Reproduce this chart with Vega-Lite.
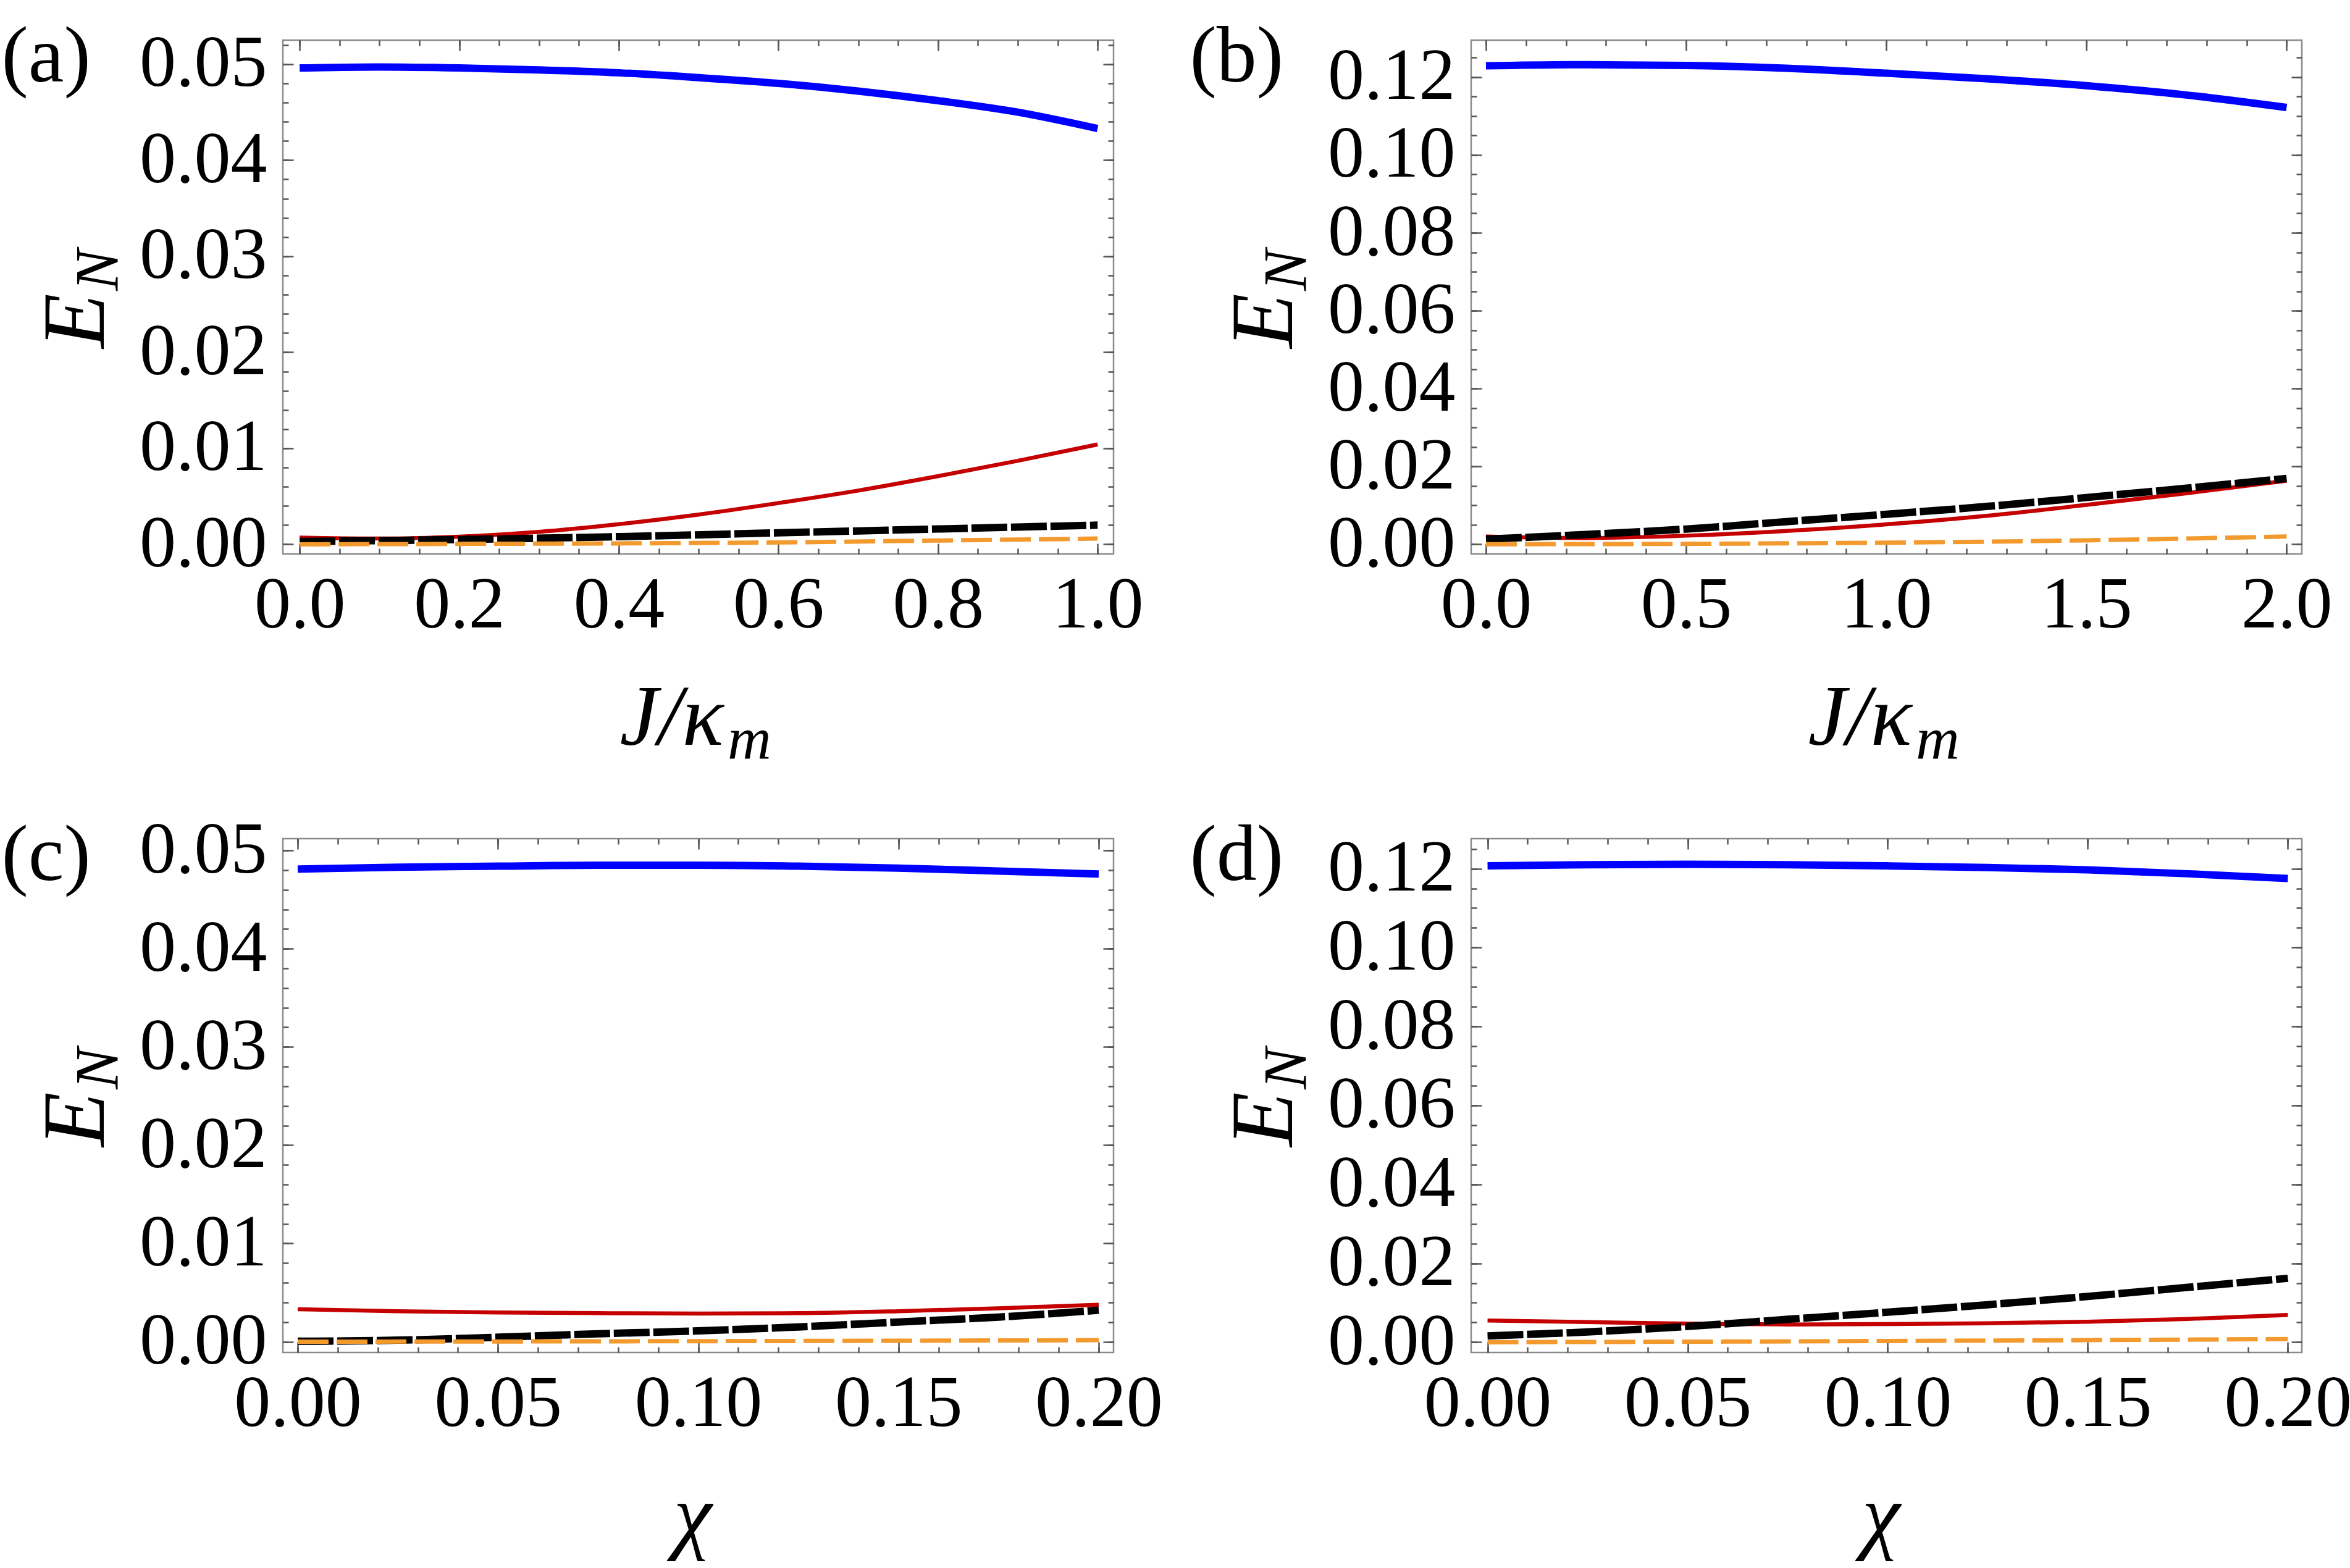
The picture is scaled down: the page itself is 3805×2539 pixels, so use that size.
{
  "$schema": "https://vega.github.io/schema/vega-lite/v6.json",
  "background": "white",
  "padding": {"left": 0, "top": 25, "right": 0, "bottom": 0},
  "columns": 2,
  "bounds": "flush",
  "spacing": {"row": 461, "column": 579},
  "datasets": {
    "en": [
      {"p": "a", "s": "blue", "x": 0, "y": 0.0496},
      {"p": "a", "s": "blue", "x": 0.1, "y": 0.0497},
      {"p": "a", "s": "blue", "x": 0.2, "y": 0.0496},
      {"p": "a", "s": "blue", "x": 0.3, "y": 0.0494},
      {"p": "a", "s": "blue", "x": 0.4, "y": 0.0491},
      {"p": "a", "s": "blue", "x": 0.5, "y": 0.0486},
      {"p": "a", "s": "blue", "x": 0.6, "y": 0.0480},
      {"p": "a", "s": "blue", "x": 0.7, "y": 0.0472},
      {"p": "a", "s": "blue", "x": 0.8, "y": 0.0462},
      {"p": "a", "s": "blue", "x": 0.9, "y": 0.0450},
      {"p": "a", "s": "blue", "x": 1.0, "y": 0.0433},
      {"p": "a", "s": "red", "x": 0, "y": 0.0007},
      {"p": "a", "s": "red", "x": 0.1, "y": 0.0006},
      {"p": "a", "s": "red", "x": 0.2, "y": 0.0008},
      {"p": "a", "s": "red", "x": 0.3, "y": 0.0013},
      {"p": "a", "s": "red", "x": 0.4, "y": 0.0021},
      {"p": "a", "s": "red", "x": 0.5, "y": 0.0031},
      {"p": "a", "s": "red", "x": 0.6, "y": 0.0043},
      {"p": "a", "s": "red", "x": 0.7, "y": 0.0056},
      {"p": "a", "s": "red", "x": 0.8, "y": 0.0071},
      {"p": "a", "s": "red", "x": 0.9, "y": 0.0087},
      {"p": "a", "s": "red", "x": 1.0, "y": 0.0104},
      {"p": "a", "s": "black", "x": 0, "y": 0.0003},
      {"p": "a", "s": "black", "x": 0.2, "y": 0.0005},
      {"p": "a", "s": "black", "x": 0.4, "y": 0.0008},
      {"p": "a", "s": "black", "x": 0.6, "y": 0.0012},
      {"p": "a", "s": "black", "x": 0.8, "y": 0.0016},
      {"p": "a", "s": "black", "x": 1.0, "y": 0.0020},
      {"p": "a", "s": "orange", "x": 0, "y": 0.0},
      {"p": "a", "s": "orange", "x": 0.2, "y": 0.00005},
      {"p": "a", "s": "orange", "x": 0.4, "y": 0.0001},
      {"p": "a", "s": "orange", "x": 0.6, "y": 0.0002},
      {"p": "a", "s": "orange", "x": 0.8, "y": 0.0004},
      {"p": "a", "s": "orange", "x": 1.0, "y": 0.0006},

      {"p": "b", "s": "blue", "x": 0, "y": 0.1229},
      {"p": "b", "s": "blue", "x": 0.25, "y": 0.1232},
      {"p": "b", "s": "blue", "x": 0.5, "y": 0.1230},
      {"p": "b", "s": "blue", "x": 0.75, "y": 0.1223},
      {"p": "b", "s": "blue", "x": 1.0, "y": 0.1210},
      {"p": "b", "s": "blue", "x": 1.25, "y": 0.1196},
      {"p": "b", "s": "blue", "x": 1.5, "y": 0.1178},
      {"p": "b", "s": "blue", "x": 1.75, "y": 0.1154},
      {"p": "b", "s": "blue", "x": 2.0, "y": 0.1122},
      {"p": "b", "s": "red", "x": 0, "y": 0.0020},
      {"p": "b", "s": "red", "x": 0.25, "y": 0.0016},
      {"p": "b", "s": "red", "x": 0.5, "y": 0.0022},
      {"p": "b", "s": "red", "x": 0.75, "y": 0.0034},
      {"p": "b", "s": "red", "x": 1.0, "y": 0.0051},
      {"p": "b", "s": "red", "x": 1.25, "y": 0.0073},
      {"p": "b", "s": "red", "x": 1.5, "y": 0.0101},
      {"p": "b", "s": "red", "x": 1.75, "y": 0.0131},
      {"p": "b", "s": "red", "x": 2.0, "y": 0.0163},
      {"p": "b", "s": "black", "x": 0, "y": 0.0013},
      {"p": "b", "s": "black", "x": 0.25, "y": 0.0025},
      {"p": "b", "s": "black", "x": 0.5, "y": 0.0039},
      {"p": "b", "s": "black", "x": 0.75, "y": 0.0058},
      {"p": "b", "s": "black", "x": 1.0, "y": 0.0077},
      {"p": "b", "s": "black", "x": 1.25, "y": 0.0097},
      {"p": "b", "s": "black", "x": 1.5, "y": 0.0120},
      {"p": "b", "s": "black", "x": 1.75, "y": 0.0144},
      {"p": "b", "s": "black", "x": 2.0, "y": 0.0169},
      {"p": "b", "s": "orange", "x": 0, "y": 0.0},
      {"p": "b", "s": "orange", "x": 0.5, "y": 0.0001},
      {"p": "b", "s": "orange", "x": 1.0, "y": 0.0004},
      {"p": "b", "s": "orange", "x": 1.5, "y": 0.0010},
      {"p": "b", "s": "orange", "x": 2.0, "y": 0.0020},

      {"p": "c", "s": "blue", "x": 0, "y": 0.0481},
      {"p": "c", "s": "blue", "x": 0.025, "y": 0.0483},
      {"p": "c", "s": "blue", "x": 0.05, "y": 0.0484},
      {"p": "c", "s": "blue", "x": 0.075, "y": 0.0485},
      {"p": "c", "s": "blue", "x": 0.1, "y": 0.0485},
      {"p": "c", "s": "blue", "x": 0.125, "y": 0.0484},
      {"p": "c", "s": "blue", "x": 0.15, "y": 0.0482},
      {"p": "c", "s": "blue", "x": 0.175, "y": 0.0479},
      {"p": "c", "s": "blue", "x": 0.2, "y": 0.0476},
      {"p": "c", "s": "red", "x": 0, "y": 0.0033},
      {"p": "c", "s": "red", "x": 0.025, "y": 0.0031},
      {"p": "c", "s": "red", "x": 0.05, "y": 0.00297},
      {"p": "c", "s": "red", "x": 0.075, "y": 0.0029},
      {"p": "c", "s": "red", "x": 0.1, "y": 0.00286},
      {"p": "c", "s": "red", "x": 0.125, "y": 0.0029},
      {"p": "c", "s": "red", "x": 0.15, "y": 0.0031},
      {"p": "c", "s": "red", "x": 0.175, "y": 0.0034},
      {"p": "c", "s": "red", "x": 0.2, "y": 0.00375},
      {"p": "c", "s": "black", "x": 0, "y": 0.00004},
      {"p": "c", "s": "black", "x": 0.025, "y": 0.00015},
      {"p": "c", "s": "black", "x": 0.05, "y": 0.00045},
      {"p": "c", "s": "black", "x": 0.075, "y": 0.0008},
      {"p": "c", "s": "black", "x": 0.1, "y": 0.0011},
      {"p": "c", "s": "black", "x": 0.125, "y": 0.0015},
      {"p": "c", "s": "black", "x": 0.15, "y": 0.0020},
      {"p": "c", "s": "black", "x": 0.175, "y": 0.0025},
      {"p": "c", "s": "black", "x": 0.2, "y": 0.0032},
      {"p": "c", "s": "orange", "x": 0, "y": 0.0},
      {"p": "c", "s": "orange", "x": 0.1, "y": 0.00005},
      {"p": "c", "s": "orange", "x": 0.2, "y": 0.00015},

      {"p": "d", "s": "blue", "x": 0, "y": 0.1207},
      {"p": "d", "s": "blue", "x": 0.025, "y": 0.1210},
      {"p": "d", "s": "blue", "x": 0.05, "y": 0.1211},
      {"p": "d", "s": "blue", "x": 0.075, "y": 0.1210},
      {"p": "d", "s": "blue", "x": 0.1, "y": 0.1207},
      {"p": "d", "s": "blue", "x": 0.125, "y": 0.1203},
      {"p": "d", "s": "blue", "x": 0.15, "y": 0.1197},
      {"p": "d", "s": "blue", "x": 0.175, "y": 0.1187},
      {"p": "d", "s": "blue", "x": 0.2, "y": 0.1175},
      {"p": "d", "s": "red", "x": 0, "y": 0.0055},
      {"p": "d", "s": "red", "x": 0.025, "y": 0.0051},
      {"p": "d", "s": "red", "x": 0.05, "y": 0.0047},
      {"p": "d", "s": "red", "x": 0.075, "y": 0.0045},
      {"p": "d", "s": "red", "x": 0.1, "y": 0.0046},
      {"p": "d", "s": "red", "x": 0.125, "y": 0.0048},
      {"p": "d", "s": "red", "x": 0.15, "y": 0.0052},
      {"p": "d", "s": "red", "x": 0.175, "y": 0.0059},
      {"p": "d", "s": "red", "x": 0.2, "y": 0.0069},
      {"p": "d", "s": "black", "x": 0, "y": 0.0016},
      {"p": "d", "s": "black", "x": 0.025, "y": 0.0026},
      {"p": "d", "s": "black", "x": 0.05, "y": 0.0040},
      {"p": "d", "s": "black", "x": 0.075, "y": 0.0058},
      {"p": "d", "s": "black", "x": 0.1, "y": 0.0076},
      {"p": "d", "s": "black", "x": 0.125, "y": 0.0095},
      {"p": "d", "s": "black", "x": 0.15, "y": 0.0116},
      {"p": "d", "s": "black", "x": 0.175, "y": 0.0139},
      {"p": "d", "s": "black", "x": 0.2, "y": 0.0162},
      {"p": "d", "s": "orange", "x": 0, "y": 0.0},
      {"p": "d", "s": "orange", "x": 0.1, "y": 0.0003},
      {"p": "d", "s": "orange", "x": 0.2, "y": 0.0008}
    ]
  },
  "concat": [
    {
      "width": 1345, "height": 832,
      "data": {"name": "en"},
      "transform": [{"filter": "datum.p == 'a'"}],
      "layer": [
        {
          "transform": [{"filter": "datum.s == 'blue'"}],
          "mark": {"type": "line", "color": "#0000ff", "strokeWidth": 12, "interpolate": "monotone"},
          "encoding": {
            "x": {"field": "x", "type": "quantitative", "scale": {"domain": [-0.021, 1.02], "nice": false, "zero": false},
              "axis": {"orient": "bottom", "values": [0, 0.2, 0.4, 0.6, 0.8, 1], "format": ".1f", "tickSize": -17, "labelPadding": 135, "labelBaseline": "alphabetic",
                "title": "J/κ", "titleX": 629, "titleY": 308, "titleAngle": 0, "titleAlign": "center", "titleBaseline": "alphabetic", "titleFontSize": 140}},
            "y": {"field": "y", "type": "quantitative", "scale": {"domain": [-0.001, 0.0525], "nice": false, "zero": false},
              "axis": {"orient": "left", "values": [0, 0.01, 0.02, 0.03, 0.04, 0.05], "format": ".2f", "tickSize": -17, "labelPadding": 43,
                "title": "E", "titleX": -291, "titleY": 454, "titleAngle": -90, "titleAlign": "center", "titleBaseline": "alphabetic", "titleFontSize": 145}}
          }
        },
        {
          "transform": [{"filter": "datum.s == 'red'"}],
          "mark": {"type": "line", "color": "#c40000", "strokeWidth": 6.5, "interpolate": "monotone"},
          "encoding": {
            "x": {"field": "x", "type": "quantitative", "scale": {"domain": [-0.021, 1.02], "nice": false, "zero": false}, "axis": null},
            "y": {"field": "y", "type": "quantitative", "scale": {"domain": [-0.001, 0.0525], "nice": false, "zero": false}, "axis": null}
          }
        },
        {
          "transform": [{"filter": "datum.s == 'black'"}],
          "mark": {"type": "line", "color": "black", "strokeWidth": 12, "strokeDash": [58, 6], "interpolate": "monotone"},
          "encoding": {
            "x": {"field": "x", "type": "quantitative", "scale": {"domain": [-0.021, 1.02], "nice": false, "zero": false}, "axis": null},
            "y": {"field": "y", "type": "quantitative", "scale": {"domain": [-0.001, 0.0525], "nice": false, "zero": false}, "axis": null}
          }
        },
        {
          "transform": [{"filter": "datum.s == 'orange'"}],
          "mark": {"type": "line", "color": "#f29a2e", "strokeWidth": 7, "strokeDash": [50, 13], "interpolate": "monotone"},
          "encoding": {
            "x": {"field": "x", "type": "quantitative", "scale": {"domain": [-0.021, 1.02], "nice": false, "zero": false}, "axis": null},
            "y": {"field": "y", "type": "quantitative", "scale": {"domain": [-0.001, 0.0525], "nice": false, "zero": false}, "axis": null}
          }
        },
        {
          "mark": {"type": "line", "opacity": 0},
          "encoding": {
            "x": {"field": "x", "type": "quantitative", "scale": {"domain": [-0.021, 1.02], "nice": false, "zero": false},
              "axis": {"orient": "top", "values": [0, 0.2, 0.4, 0.6, 0.8, 1], "labels": false, "tickSize": -17,
                "title": "(a)", "titleX": -456, "titleY": 66, "titleAngle": 0, "titleAlign": "left", "titleBaseline": "alphabetic", "titleFontSize": 130, "titleFontStyle": "normal"}},
            "y": {"field": "y", "type": "quantitative", "scale": {"domain": [-0.001, 0.0525], "nice": false, "zero": false},
              "axis": {"orient": "right", "values": [0, 0.01, 0.02, 0.03, 0.04, 0.05], "labels": false, "tickSize": -17, "title": null}}
          }
        },
        {
          "mark": {"type": "line", "opacity": 0},
          "encoding": {
            "x": {"field": "x", "type": "quantitative", "scale": {"domain": [-0.021, 1.02], "nice": false, "zero": false},
              "axis": {"orient": "bottom", "values": [0, 0.05, 0.1, 0.15, 0.2, 0.25, 0.3, 0.35, 0.4, 0.45, 0.5, 0.55, 0.6, 0.65, 0.7, 0.75, 0.8, 0.85, 0.9, 0.95, 1], "labels": false, "tickSize": -9,
                "title": "m", "titleX": 755, "titleY": 330, "titleAngle": 0, "titleAlign": "center", "titleBaseline": "alphabetic", "titleFontSize": 98}},
            "y": {"field": "y", "type": "quantitative", "scale": {"domain": [-0.001, 0.0525], "nice": false, "zero": false},
              "axis": {"orient": "left", "values": [0, 0.002, 0.004, 0.006, 0.008, 0.01, 0.012, 0.014, 0.016, 0.018, 0.02, 0.022, 0.024, 0.026, 0.028, 0.03, 0.032, 0.034, 0.036, 0.038, 0.04, 0.042, 0.044, 0.046, 0.048, 0.05, 0.052], "labels": false, "tickSize": -9,
                "title": "N", "titleX": -269, "titleY": 372, "titleAngle": -90, "titleAlign": "center", "titleBaseline": "alphabetic", "titleFontSize": 100}}
          }
        },
        {
          "mark": {"type": "line", "opacity": 0},
          "encoding": {
            "x": {"field": "x", "type": "quantitative", "scale": {"domain": [-0.021, 1.02], "nice": false, "zero": false},
              "axis": {"orient": "top", "values": [0, 0.05, 0.1, 0.15, 0.2, 0.25, 0.3, 0.35, 0.4, 0.45, 0.5, 0.55, 0.6, 0.65, 0.7, 0.75, 0.8, 0.85, 0.9, 0.95, 1], "labels": false, "tickSize": -9, "title": null}},
            "y": {"field": "y", "type": "quantitative", "scale": {"domain": [-0.001, 0.0525], "nice": false, "zero": false},
              "axis": {"orient": "right", "values": [0, 0.002, 0.004, 0.006, 0.008, 0.01, 0.012, 0.014, 0.016, 0.018, 0.02, 0.022, 0.024, 0.026, 0.028, 0.03, 0.032, 0.034, 0.036, 0.038, 0.04, 0.042, 0.044, 0.046, 0.048, 0.05, 0.052], "labels": false, "tickSize": -9, "title": null}}
          }
        }
      ],
      "resolve": {"axis": {"x": "independent", "y": "independent"}}
    },
    {
      "width": 1345, "height": 832,
      "data": {"name": "en"},
      "transform": [{"filter": "datum.p == 'b'"}],
      "layer": [
        {
          "transform": [{"filter": "datum.s == 'blue'"}],
          "mark": {"type": "line", "color": "#0000ff", "strokeWidth": 12, "interpolate": "monotone"},
          "encoding": {
            "x": {"field": "x", "type": "quantitative", "scale": {"domain": [-0.037, 2.038], "nice": false, "zero": false},
              "axis": {"orient": "bottom", "values": [0, 0.5, 1, 1.5, 2], "format": ".1f", "tickSize": -17, "labelPadding": 135, "labelBaseline": "alphabetic",
                "title": "J/κ", "titleX": 629, "titleY": 308, "titleAngle": 0, "titleAlign": "center", "titleBaseline": "alphabetic", "titleFontSize": 140}},
            "y": {"field": "y", "type": "quantitative", "scale": {"domain": [-0.0025, 0.1295], "nice": false, "zero": false},
              "axis": {"orient": "left", "values": [0, 0.02, 0.04, 0.06, 0.08, 0.1, 0.12], "format": ".2f", "tickSize": -17, "labelPadding": 43,
                "title": "E", "titleX": -291, "titleY": 454, "titleAngle": -90, "titleAlign": "center", "titleBaseline": "alphabetic", "titleFontSize": 145}}
          }
        },
        {
          "transform": [{"filter": "datum.s == 'red'"}],
          "mark": {"type": "line", "color": "#c40000", "strokeWidth": 6.5, "interpolate": "monotone"},
          "encoding": {
            "x": {"field": "x", "type": "quantitative", "scale": {"domain": [-0.037, 2.038], "nice": false, "zero": false}, "axis": null},
            "y": {"field": "y", "type": "quantitative", "scale": {"domain": [-0.0025, 0.1295], "nice": false, "zero": false}, "axis": null}
          }
        },
        {
          "transform": [{"filter": "datum.s == 'black'"}],
          "mark": {"type": "line", "color": "black", "strokeWidth": 12, "strokeDash": [58, 6], "interpolate": "monotone"},
          "encoding": {
            "x": {"field": "x", "type": "quantitative", "scale": {"domain": [-0.037, 2.038], "nice": false, "zero": false}, "axis": null},
            "y": {"field": "y", "type": "quantitative", "scale": {"domain": [-0.0025, 0.1295], "nice": false, "zero": false}, "axis": null}
          }
        },
        {
          "transform": [{"filter": "datum.s == 'orange'"}],
          "mark": {"type": "line", "color": "#f29a2e", "strokeWidth": 7, "strokeDash": [50, 13], "interpolate": "monotone"},
          "encoding": {
            "x": {"field": "x", "type": "quantitative", "scale": {"domain": [-0.037, 2.038], "nice": false, "zero": false}, "axis": null},
            "y": {"field": "y", "type": "quantitative", "scale": {"domain": [-0.0025, 0.1295], "nice": false, "zero": false}, "axis": null}
          }
        },
        {
          "mark": {"type": "line", "opacity": 0},
          "encoding": {
            "x": {"field": "x", "type": "quantitative", "scale": {"domain": [-0.037, 2.038], "nice": false, "zero": false},
              "axis": {"orient": "top", "values": [0, 0.5, 1, 1.5, 2], "labels": false, "tickSize": -17,
                "title": "(b)", "titleX": -456, "titleY": 66, "titleAngle": 0, "titleAlign": "left", "titleBaseline": "alphabetic", "titleFontSize": 130, "titleFontStyle": "normal"}},
            "y": {"field": "y", "type": "quantitative", "scale": {"domain": [-0.0025, 0.1295], "nice": false, "zero": false},
              "axis": {"orient": "right", "values": [0, 0.02, 0.04, 0.06, 0.08, 0.1, 0.12], "labels": false, "tickSize": -17, "title": null}}
          }
        },
        {
          "mark": {"type": "line", "opacity": 0},
          "encoding": {
            "x": {"field": "x", "type": "quantitative", "scale": {"domain": [-0.037, 2.038], "nice": false, "zero": false},
              "axis": {"orient": "bottom", "values": [0, 0.1, 0.2, 0.3, 0.4, 0.5, 0.6, 0.7, 0.8, 0.9, 1, 1.1, 1.2, 1.3, 1.4, 1.5, 1.6, 1.7, 1.8, 1.9, 2], "labels": false, "tickSize": -9,
                "title": "m", "titleX": 755, "titleY": 330, "titleAngle": 0, "titleAlign": "center", "titleBaseline": "alphabetic", "titleFontSize": 98}},
            "y": {"field": "y", "type": "quantitative", "scale": {"domain": [-0.0025, 0.1295], "nice": false, "zero": false},
              "axis": {"orient": "left", "values": [0, 0.005, 0.01, 0.015, 0.02, 0.025, 0.03, 0.035, 0.04, 0.045, 0.05, 0.055, 0.06, 0.065, 0.07, 0.075, 0.08, 0.085, 0.09, 0.095, 0.1, 0.105, 0.11, 0.115, 0.12, 0.125], "labels": false, "tickSize": -9,
                "title": "N", "titleX": -269, "titleY": 372, "titleAngle": -90, "titleAlign": "center", "titleBaseline": "alphabetic", "titleFontSize": 100}}
          }
        },
        {
          "mark": {"type": "line", "opacity": 0},
          "encoding": {
            "x": {"field": "x", "type": "quantitative", "scale": {"domain": [-0.037, 2.038], "nice": false, "zero": false},
              "axis": {"orient": "top", "values": [0, 0.1, 0.2, 0.3, 0.4, 0.5, 0.6, 0.7, 0.8, 0.9, 1, 1.1, 1.2, 1.3, 1.4, 1.5, 1.6, 1.7, 1.8, 1.9, 2], "labels": false, "tickSize": -9, "title": null}},
            "y": {"field": "y", "type": "quantitative", "scale": {"domain": [-0.0025, 0.1295], "nice": false, "zero": false},
              "axis": {"orient": "right", "values": [0, 0.005, 0.01, 0.015, 0.02, 0.025, 0.03, 0.035, 0.04, 0.045, 0.05, 0.055, 0.06, 0.065, 0.07, 0.075, 0.08, 0.085, 0.09, 0.095, 0.1, 0.105, 0.11, 0.115, 0.12, 0.125], "labels": false, "tickSize": -9, "title": null}}
          }
        }
      ],
      "resolve": {"axis": {"x": "independent", "y": "independent"}}
    },
    {
      "width": 1345, "height": 832,
      "data": {"name": "en"},
      "transform": [{"filter": "datum.p == 'c'"}],
      "layer": [
        {
          "transform": [{"filter": "datum.s == 'blue'"}],
          "mark": {"type": "line", "color": "#0000ff", "strokeWidth": 12, "interpolate": "monotone"},
          "encoding": {
            "x": {"field": "x", "type": "quantitative", "scale": {"domain": [-0.0037, 0.2037], "nice": false, "zero": false},
              "axis": {"orient": "bottom", "values": [0, 0.05, 0.1, 0.15, 0.2], "format": ".2f", "tickSize": -17, "labelPadding": 135, "labelBaseline": "alphabetic",
                "title": "χ", "titleX": 663, "titleY": 308, "titleAngle": 0, "titleAlign": "center", "titleBaseline": "alphabetic", "titleFontSize": 140}},
            "y": {"field": "y", "type": "quantitative", "scale": {"domain": [-0.0011, 0.0512], "nice": false, "zero": false},
              "axis": {"orient": "left", "values": [0, 0.01, 0.02, 0.03, 0.04, 0.05], "format": ".2f", "tickSize": -17, "labelPadding": 43,
                "title": "E", "titleX": -291, "titleY": 454, "titleAngle": -90, "titleAlign": "center", "titleBaseline": "alphabetic", "titleFontSize": 145}}
          }
        },
        {
          "transform": [{"filter": "datum.s == 'red'"}],
          "mark": {"type": "line", "color": "#c40000", "strokeWidth": 6.5, "interpolate": "monotone"},
          "encoding": {
            "x": {"field": "x", "type": "quantitative", "scale": {"domain": [-0.0037, 0.2037], "nice": false, "zero": false}, "axis": null},
            "y": {"field": "y", "type": "quantitative", "scale": {"domain": [-0.0011, 0.0512], "nice": false, "zero": false}, "axis": null}
          }
        },
        {
          "transform": [{"filter": "datum.s == 'black'"}],
          "mark": {"type": "line", "color": "black", "strokeWidth": 12, "strokeDash": [58, 6], "interpolate": "monotone"},
          "encoding": {
            "x": {"field": "x", "type": "quantitative", "scale": {"domain": [-0.0037, 0.2037], "nice": false, "zero": false}, "axis": null},
            "y": {"field": "y", "type": "quantitative", "scale": {"domain": [-0.0011, 0.0512], "nice": false, "zero": false}, "axis": null}
          }
        },
        {
          "transform": [{"filter": "datum.s == 'orange'"}],
          "mark": {"type": "line", "color": "#f29a2e", "strokeWidth": 7, "strokeDash": [50, 13], "interpolate": "monotone"},
          "encoding": {
            "x": {"field": "x", "type": "quantitative", "scale": {"domain": [-0.0037, 0.2037], "nice": false, "zero": false}, "axis": null},
            "y": {"field": "y", "type": "quantitative", "scale": {"domain": [-0.0011, 0.0512], "nice": false, "zero": false}, "axis": null}
          }
        },
        {
          "mark": {"type": "line", "opacity": 0},
          "encoding": {
            "x": {"field": "x", "type": "quantitative", "scale": {"domain": [-0.0037, 0.2037], "nice": false, "zero": false},
              "axis": {"orient": "top", "values": [0, 0.05, 0.1, 0.15, 0.2], "labels": false, "tickSize": -17,
                "title": "(c)", "titleX": -456, "titleY": 66, "titleAngle": 0, "titleAlign": "left", "titleBaseline": "alphabetic", "titleFontSize": 130, "titleFontStyle": "normal"}},
            "y": {"field": "y", "type": "quantitative", "scale": {"domain": [-0.0011, 0.0512], "nice": false, "zero": false},
              "axis": {"orient": "right", "values": [0, 0.01, 0.02, 0.03, 0.04, 0.05], "labels": false, "tickSize": -17, "title": null}}
          }
        },
        {
          "mark": {"type": "line", "opacity": 0},
          "encoding": {
            "x": {"field": "x", "type": "quantitative", "scale": {"domain": [-0.0037, 0.2037], "nice": false, "zero": false},
              "axis": {"orient": "bottom", "values": [0, 0.01, 0.02, 0.03, 0.04, 0.05, 0.06, 0.07, 0.08, 0.09, 0.1, 0.11, 0.12, 0.13, 0.14, 0.15, 0.16, 0.17, 0.18, 0.19, 0.2], "labels": false, "tickSize": -9, "title": null}},
            "y": {"field": "y", "type": "quantitative", "scale": {"domain": [-0.0011, 0.0512], "nice": false, "zero": false},
              "axis": {"orient": "left", "values": [0, 0.002, 0.004, 0.006, 0.008, 0.01, 0.012, 0.014, 0.016, 0.018, 0.02, 0.022, 0.024, 0.026, 0.028, 0.03, 0.032, 0.034, 0.036, 0.038, 0.04, 0.042, 0.044, 0.046, 0.048, 0.05], "labels": false, "tickSize": -9,
                "title": "N", "titleX": -269, "titleY": 372, "titleAngle": -90, "titleAlign": "center", "titleBaseline": "alphabetic", "titleFontSize": 100}}
          }
        },
        {
          "mark": {"type": "line", "opacity": 0},
          "encoding": {
            "x": {"field": "x", "type": "quantitative", "scale": {"domain": [-0.0037, 0.2037], "nice": false, "zero": false},
              "axis": {"orient": "top", "values": [0, 0.01, 0.02, 0.03, 0.04, 0.05, 0.06, 0.07, 0.08, 0.09, 0.1, 0.11, 0.12, 0.13, 0.14, 0.15, 0.16, 0.17, 0.18, 0.19, 0.2], "labels": false, "tickSize": -9, "title": null}},
            "y": {"field": "y", "type": "quantitative", "scale": {"domain": [-0.0011, 0.0512], "nice": false, "zero": false},
              "axis": {"orient": "right", "values": [0, 0.002, 0.004, 0.006, 0.008, 0.01, 0.012, 0.014, 0.016, 0.018, 0.02, 0.022, 0.024, 0.026, 0.028, 0.03, 0.032, 0.034, 0.036, 0.038, 0.04, 0.042, 0.044, 0.046, 0.048, 0.05], "labels": false, "tickSize": -9, "title": null}}
          }
        }
      ],
      "resolve": {"axis": {"x": "independent", "y": "independent"}}
    },
    {
      "width": 1345, "height": 832,
      "data": {"name": "en"},
      "transform": [{"filter": "datum.p == 'd'"}],
      "layer": [
        {
          "transform": [{"filter": "datum.s == 'blue'"}],
          "mark": {"type": "line", "color": "#0000ff", "strokeWidth": 12, "interpolate": "monotone"},
          "encoding": {
            "x": {"field": "x", "type": "quantitative", "scale": {"domain": [-0.0041, 0.2035], "nice": false, "zero": false},
              "axis": {"orient": "bottom", "values": [0, 0.05, 0.1, 0.15, 0.2], "format": ".2f", "tickSize": -17, "labelPadding": 135, "labelBaseline": "alphabetic",
                "title": "χ", "titleX": 663, "titleY": 308, "titleAngle": 0, "titleAlign": "center", "titleBaseline": "alphabetic", "titleFontSize": 140}},
            "y": {"field": "y", "type": "quantitative", "scale": {"domain": [-0.0026, 0.1276], "nice": false, "zero": false},
              "axis": {"orient": "left", "values": [0, 0.02, 0.04, 0.06, 0.08, 0.1, 0.12], "format": ".2f", "tickSize": -17, "labelPadding": 43,
                "title": "E", "titleX": -291, "titleY": 454, "titleAngle": -90, "titleAlign": "center", "titleBaseline": "alphabetic", "titleFontSize": 145}}
          }
        },
        {
          "transform": [{"filter": "datum.s == 'red'"}],
          "mark": {"type": "line", "color": "#c40000", "strokeWidth": 6.5, "interpolate": "monotone"},
          "encoding": {
            "x": {"field": "x", "type": "quantitative", "scale": {"domain": [-0.0041, 0.2035], "nice": false, "zero": false}, "axis": null},
            "y": {"field": "y", "type": "quantitative", "scale": {"domain": [-0.0026, 0.1276], "nice": false, "zero": false}, "axis": null}
          }
        },
        {
          "transform": [{"filter": "datum.s == 'black'"}],
          "mark": {"type": "line", "color": "black", "strokeWidth": 12, "strokeDash": [58, 6], "interpolate": "monotone"},
          "encoding": {
            "x": {"field": "x", "type": "quantitative", "scale": {"domain": [-0.0041, 0.2035], "nice": false, "zero": false}, "axis": null},
            "y": {"field": "y", "type": "quantitative", "scale": {"domain": [-0.0026, 0.1276], "nice": false, "zero": false}, "axis": null}
          }
        },
        {
          "transform": [{"filter": "datum.s == 'orange'"}],
          "mark": {"type": "line", "color": "#f29a2e", "strokeWidth": 7, "strokeDash": [50, 13], "interpolate": "monotone"},
          "encoding": {
            "x": {"field": "x", "type": "quantitative", "scale": {"domain": [-0.0041, 0.2035], "nice": false, "zero": false}, "axis": null},
            "y": {"field": "y", "type": "quantitative", "scale": {"domain": [-0.0026, 0.1276], "nice": false, "zero": false}, "axis": null}
          }
        },
        {
          "mark": {"type": "line", "opacity": 0},
          "encoding": {
            "x": {"field": "x", "type": "quantitative", "scale": {"domain": [-0.0041, 0.2035], "nice": false, "zero": false},
              "axis": {"orient": "top", "values": [0, 0.05, 0.1, 0.15, 0.2], "labels": false, "tickSize": -17,
                "title": "(d)", "titleX": -456, "titleY": 66, "titleAngle": 0, "titleAlign": "left", "titleBaseline": "alphabetic", "titleFontSize": 130, "titleFontStyle": "normal"}},
            "y": {"field": "y", "type": "quantitative", "scale": {"domain": [-0.0026, 0.1276], "nice": false, "zero": false},
              "axis": {"orient": "right", "values": [0, 0.02, 0.04, 0.06, 0.08, 0.1, 0.12], "labels": false, "tickSize": -17, "title": null}}
          }
        },
        {
          "mark": {"type": "line", "opacity": 0},
          "encoding": {
            "x": {"field": "x", "type": "quantitative", "scale": {"domain": [-0.0041, 0.2035], "nice": false, "zero": false},
              "axis": {"orient": "bottom", "values": [0, 0.01, 0.02, 0.03, 0.04, 0.05, 0.06, 0.07, 0.08, 0.09, 0.1, 0.11, 0.12, 0.13, 0.14, 0.15, 0.16, 0.17, 0.18, 0.19, 0.2], "labels": false, "tickSize": -9, "title": null}},
            "y": {"field": "y", "type": "quantitative", "scale": {"domain": [-0.0026, 0.1276], "nice": false, "zero": false},
              "axis": {"orient": "left", "values": [0, 0.005, 0.01, 0.015, 0.02, 0.025, 0.03, 0.035, 0.04, 0.045, 0.05, 0.055, 0.06, 0.065, 0.07, 0.075, 0.08, 0.085, 0.09, 0.095, 0.1, 0.105, 0.11, 0.115, 0.12, 0.125], "labels": false, "tickSize": -9,
                "title": "N", "titleX": -269, "titleY": 372, "titleAngle": -90, "titleAlign": "center", "titleBaseline": "alphabetic", "titleFontSize": 100}}
          }
        },
        {
          "mark": {"type": "line", "opacity": 0},
          "encoding": {
            "x": {"field": "x", "type": "quantitative", "scale": {"domain": [-0.0041, 0.2035], "nice": false, "zero": false},
              "axis": {"orient": "top", "values": [0, 0.01, 0.02, 0.03, 0.04, 0.05, 0.06, 0.07, 0.08, 0.09, 0.1, 0.11, 0.12, 0.13, 0.14, 0.15, 0.16, 0.17, 0.18, 0.19, 0.2], "labels": false, "tickSize": -9, "title": null}},
            "y": {"field": "y", "type": "quantitative", "scale": {"domain": [-0.0026, 0.1276], "nice": false, "zero": false},
              "axis": {"orient": "right", "values": [0, 0.005, 0.01, 0.015, 0.02, 0.025, 0.03, 0.035, 0.04, 0.045, 0.05, 0.055, 0.06, 0.065, 0.07, 0.075, 0.08, 0.085, 0.09, 0.095, 0.1, 0.105, 0.11, 0.115, 0.12, 0.125], "labels": false, "tickSize": -9, "title": null}}
          }
        }
      ],
      "resolve": {"axis": {"x": "independent", "y": "independent"}}
    }
  ],
  "config": {
    "font": "Liberation Serif",
    "view": {"stroke": "#8a8a8a", "strokeWidth": 2.5},
    "axis": {
      "domain": false,
      "grid": false,
      "labelFont": "Liberation Serif",
      "labelFontSize": 118,
      "labelLimit": 2000,
      "labelColor": "black",
      "labelOverlap": false,
      "labelFlush": false,
      "tickColor": "#555555",
      "tickWidth": 2.5,
      "titleFont": "Liberation Serif",
      "titleFontStyle": "italic",
      "titleFontWeight": "normal",
      "titleColor": "black",
      "titleLimit": 2000,
      "titlePadding": 0
    }
  }
}
